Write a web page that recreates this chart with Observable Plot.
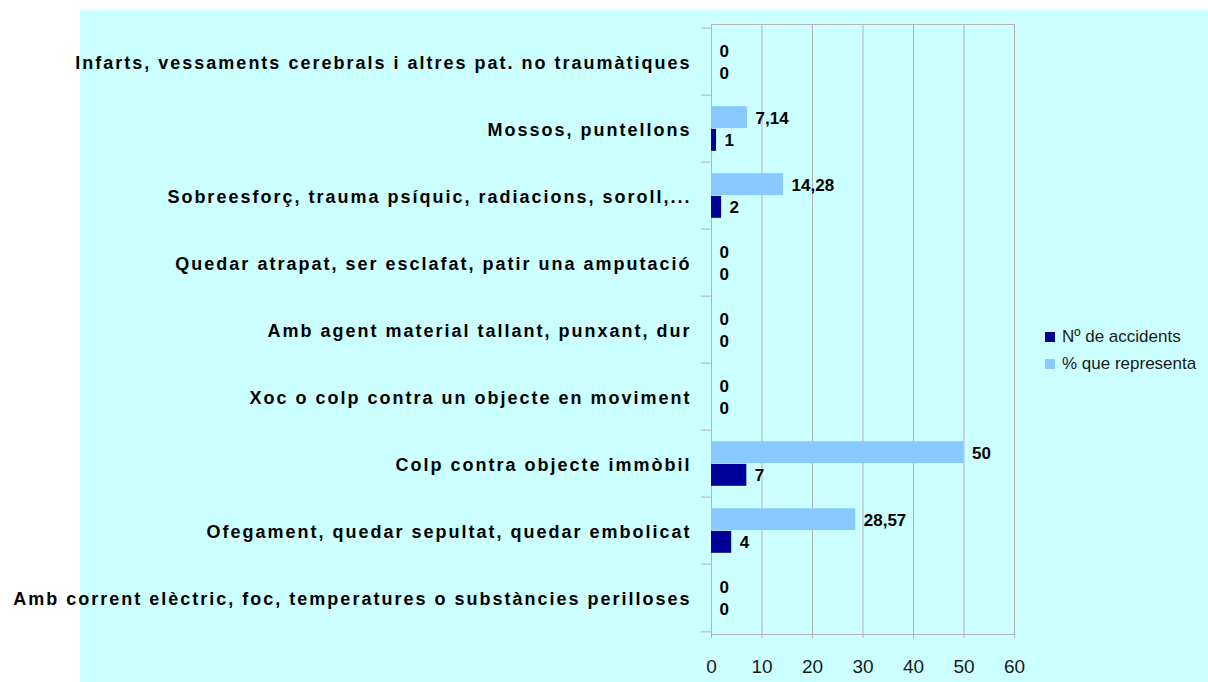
<!DOCTYPE html>
<html>
<head>
<meta charset="utf-8">
<script src="https://cdn.jsdelivr.net/npm/d3@7"></script>
<script src="https://cdn.jsdelivr.net/npm/@observablehq/plot@0.6"></script>
<style>
  html, body { margin: 0; padding: 0; background: #ffffff; }
  #wrap { position: relative; width: 1208px; height: 682px; overflow: hidden; font-family: "Liberation Sans", Arial, sans-serif; }
  #bg { position: absolute; left: 80px; top: 10px; right: 0; bottom: 0; background: #ccffff; }
  #chart { position: absolute; left: 0; top: 0; }
  #chart g[aria-label="y-axis tick label"] text { letter-spacing: 2px; }
  #legend { position: absolute; left: 1045px; top: 323px; font-size: 17px; color: #1a1a1a; }
  .item { display: flex; align-items: center; height: 27px; }
  .sw { width: 10px; height: 10px; margin-right: 7px; }
</style>
</head>
<body>
<div id="wrap">
  <div id="bg"></div>
  <div id="chart"></div>
  <div id="legend"></div>
</div>
<script>
const categories = [
  "Infarts, vessaments cerebrals i altres pat. no traumàtiques",
  "Mossos, puntellons",
  "Sobreesforç, trauma psíquic, radiacions, soroll,...",
  "Quedar atrapat, ser esclafat, patir una amputació",
  "Amb agent material tallant, punxant, dur",
  "Xoc o colp contra un objecte en moviment",
  "Colp contra objecte immòbil",
  "Ofegament, quedar sepultat, quedar embolicat",
  "Amb corrent elèctric, foc, temperatures o substàncies perilloses"
];
const countValues = [0, 1, 2, 0, 0, 0, 7, 4, 0];
const pctValues = [0, 7.14, 14.28, 0, 0, 0, 50, 28.57, 0];
const seriesNames = ["Nº de accidents", "% que representa"];
const seriesColors = ["#000099", "#88c9ff"];
const xTicks = [0, 10, 20, 30, 40, 50, 60];

const rows = categories.map((c, i) => ({cat: c, count: countValues[i], pct: pctValues[i]}));
const fmt = v => String(v).replace(".", ",");

const W = 1208, H = 682, mT = 24, mB = 48, mL = 711, mR = 194;
const bw = (H - mT - mB) / categories.length;
const gridColor = "#b3b3b3";

const plot = Plot.plot({
  width: W, height: H,
  marginLeft: mL, marginRight: mR, marginTop: mT, marginBottom: mB,
  style: {background: "transparent", fontFamily: "Liberation Sans, Arial, sans-serif", overflow: "visible"},
  x: {domain: [0, 60], ticks: xTicks, label: null},
  y: {domain: categories, padding: 0, label: null},
  marks: [
    Plot.gridX(xTicks, {stroke: gridColor, strokeOpacity: 1}),
    Plot.frame({stroke: gridColor}),
    Plot.barX(rows, {x: "pct", y: "cat", fill: seriesColors[1], insetTop: 11.2, insetBottom: bw / 2}),
    Plot.barX(rows, {x: "count", y: "cat", fill: seriesColors[0], insetTop: bw / 2, insetBottom: 11.2}),
    Plot.text(rows, {x: "pct", y: "cat", text: d => fmt(d.pct), dx: 8, dy: -10.6, textAnchor: "start", fontWeight: "bold", fontSize: 17, fill: "#000"}),
    Plot.text(rows, {x: "count", y: "cat", text: d => fmt(d.count), dx: 8, dy: 11.8, textAnchor: "start", fontWeight: "bold", fontSize: 17, fill: "#000"}),
    Plot.ruleY(categories, {y: d => d, x1: -2, x2: 0, dy: -bw / 2, stroke: gridColor}),
    Plot.ruleY(categories.slice(-1), {y: d => d, x1: -2, x2: 0, dy: bw / 2, stroke: gridColor}),
    Plot.axisX({ticks: xTicks, tickSize: 4, tickPadding: 21, fontSize: 19, stroke: gridColor, fill: "#1a1a1a", label: null}),
    Plot.axisY({tickSize: 0, tickPadding: 20, fontSize: 18, fontWeight: "bold", fill: "#000", dy: 1.5, label: null})
  ]
});
document.getElementById("chart").appendChild(plot);

const legend = document.getElementById("legend");
seriesNames.forEach((name, i) => {
  const it = document.createElement("div");
  it.className = "item";
  const sw = document.createElement("div");
  sw.className = "sw";
  sw.style.background = seriesColors[i];
  const tx = document.createElement("span");
  tx.textContent = name;
  it.appendChild(sw);
  it.appendChild(tx);
  legend.appendChild(it);
});
</script>
</body>
</html>
